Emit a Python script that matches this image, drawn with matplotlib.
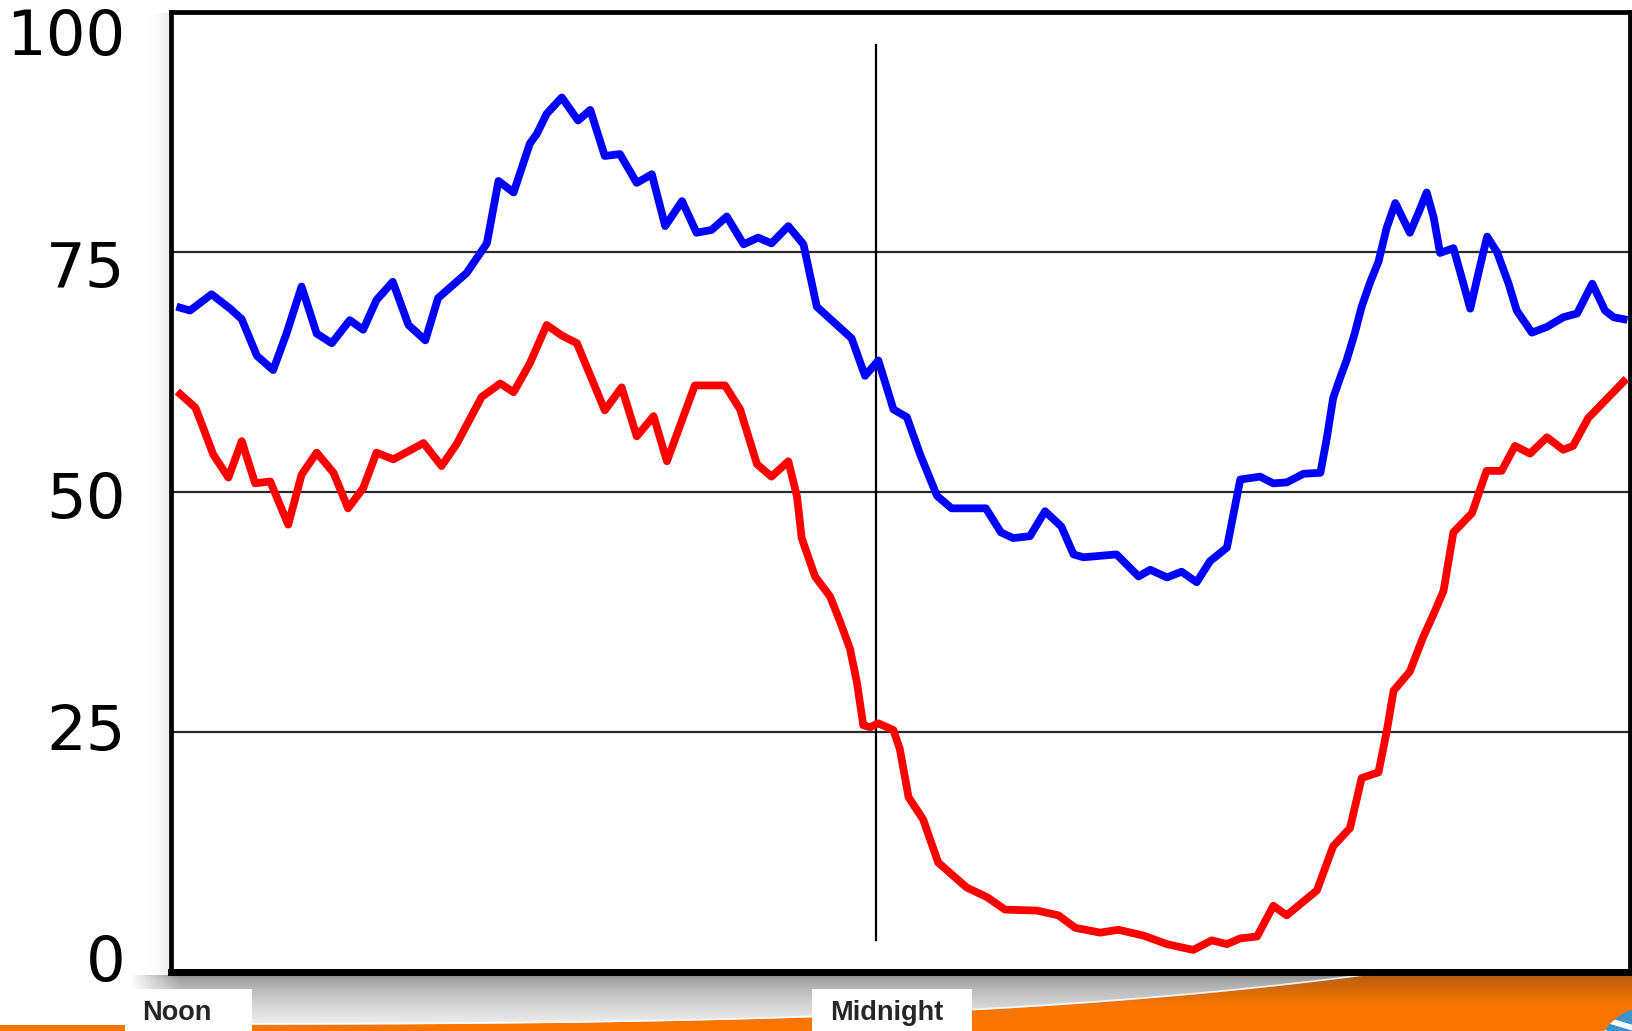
import numpy as np
import matplotlib
matplotlib.use("Agg")
import matplotlib.pyplot as plt
from matplotlib.patches import Rectangle, Polygon, Circle

# hours after noon
blue_hours = [0.02, 0.19, 0.56, 0.88, 1.08, 1.34, 1.62, 1.85, 2.11, 2.37, 2.63, 2.94,
              3.17, 3.40, 3.68, 3.95, 4.24, 4.46, 4.61, 4.95, 5.21, 5.30, 5.50, 5.76,
              6.04, 6.16, 6.33, 6.59, 6.87, 7.08, 7.33, 7.59, 7.88, 8.14, 8.37, 8.66,
              8.91, 9.17, 9.43, 9.72, 9.97, 10.20, 10.49, 10.75, 10.98, 11.58, 11.81,
              12.04, 12.30, 12.53, 12.76, 13.05, 13.30, 13.89, 14.15, 14.36, 14.65,
              14.91, 15.19, 15.40, 15.57, 16.14, 16.52, 16.72, 17.01, 17.26, 17.52,
              17.75, 18.04, 18.15, 18.27, 18.61, 18.84, 19.07, 19.36, 19.65, 19.76,
              19.87, 19.99, 20.10, 20.24, 20.36, 20.51, 20.65, 20.79, 20.94, 21.19,
              21.34, 21.48, 21.60, 21.71, 21.94, 22.08, 22.23, 22.37, 22.52, 22.69,
              22.89, 23.03, 23.29, 23.55, 23.83, 24.07, 24.33, 24.55, 24.70, 24.87]
blue_vals = [69.2, 68.9, 70.6, 69.1, 68.0, 64.2, 62.7, 66.5, 71.4, 66.5, 65.5, 67.9,
             66.9, 70.0, 71.9, 67.4, 65.8, 70.2, 71.0, 72.8, 75.1, 75.9, 82.4, 81.2,
             86.3, 87.3, 89.4, 91.1, 88.7, 89.8, 85.0, 85.2, 82.2, 83.1, 77.7, 80.3,
             77.0, 77.3, 78.7, 75.8, 76.5, 75.9, 77.7, 75.8, 69.3, 66.0, 62.1,
             63.7, 58.6, 57.8, 53.9, 49.6, 48.3, 48.3, 45.8, 45.2, 45.4,
             48.0, 46.4, 43.5, 43.2, 43.5, 41.2, 41.9, 41.1, 41.7, 40.6,
             42.8, 44.2, 47.6, 51.3, 51.6, 50.9, 51.0, 51.9, 52.0, 55.6,
             59.8, 61.9, 63.7, 66.5, 69.3, 71.9, 74.0, 77.5, 80.1, 77.0,
             79.1, 81.2, 78.6, 74.9, 75.4, 72.4, 69.1, 72.8, 76.6, 75.0,
             71.7, 68.9, 66.6, 67.2, 68.2, 68.6, 71.7, 68.9, 68.2, 68.0]

red_hours = [0.02, 0.28, 0.39, 0.59, 0.85, 1.08, 1.31, 1.57, 1.88, 2.11, 2.37, 2.66,
             2.91, 3.17, 3.40, 3.69, 4.21, 4.52, 4.78, 5.21, 5.53, 5.76, 6.04, 6.33,
             6.59, 6.85, 7.33, 7.62, 7.88, 8.17, 8.40, 8.88, 9.40, 9.66, 9.95, 10.20,
             10.49, 10.64, 10.72, 10.95, 11.21, 11.38, 11.55, 11.67, 11.78, 11.90,
             12.04, 12.30, 12.41, 12.56, 12.81, 13.07, 13.56, 13.91, 14.22, 14.77,
             15.14, 15.43, 15.86, 16.17, 16.60, 17.01, 17.46, 17.78, 18.04, 18.27,
             18.56, 18.84, 19.07, 19.59, 19.87, 20.16, 20.36, 20.65, 20.79, 20.91,
             21.19, 21.42, 21.60, 21.77, 21.94, 22.26, 22.51, 22.77, 23.00, 23.26,
             23.55, 23.83, 24.00, 24.26, 24.87]
red_vals = [60.2, 58.8, 57.1, 53.9, 51.5, 55.3, 50.9, 51.1, 46.6, 51.8, 54.1, 52.0,
            48.3, 50.4, 54.1, 53.4, 55.1, 52.7, 55.0, 59.9, 61.3, 60.4, 63.4, 67.4,
            66.3, 65.5, 58.5, 60.9, 55.8, 57.9, 53.2, 61.1, 61.1, 58.6, 52.9, 51.6,
            53.2, 49.5, 45.2, 41.2, 39.1, 36.5, 33.7, 30.2, 25.7, 25.5,
            25.9, 25.2, 23.2, 18.2, 15.9, 11.4, 8.8, 7.8, 6.5, 6.4,
            5.9, 4.6, 4.1, 4.4, 3.8, 2.9, 2.3, 3.3, 2.9, 3.5,
            3.7, 6.9, 5.9, 8.5, 13.1, 15.0, 20.2, 20.8, 25.0, 29.3,
            31.3, 34.9, 37.3, 39.7, 45.8, 47.8, 52.2, 52.2, 54.8, 54.0,
            55.7, 54.4, 54.8, 57.7, 61.5]

y_ticks = [0, 25, 50, 75, 100]
grid_vals = [25, 50, 75]
midnight = 12.0

W, H = 1632, 1031
fig = plt.figure(figsize=(W / 100, H / 100), dpi=100)
fig.patch.set_facecolor("white")

# --- background layer in pixel coords (shadow, orange swoosh, labels) ---
bg = fig.add_axes([0, 0, 1, 1], zorder=-5)
bg.set_xlim(0, W)
bg.set_ylim(H, 0)
bg.axis("off")

# grey drop shadow under the plot box
yy, xx = np.mgrid[975:H, 120:W]
shade = 0.54 + 0.43 * ((yy - 975) / (H - 975)) ** 0.6
fade = np.clip((xx - 130) / 50.0, 0, 1)
img = np.ones(yy.shape + (4,))
img[..., 0] = img[..., 1] = img[..., 2] = shade
img[..., 3] = fade
bg.imshow(img, extent=(120, W, H, 975), aspect="auto", zorder=1)

# soft shadow left of the box
yy2, xx2 = np.mgrid[13:975, 145:171]
side = np.ones(yy2.shape + (4,))
side[..., :3] = 0.85
side[..., 3] = ((xx2 - 145) / 26.0) ** 2 * 0.6
bg.imshow(side, extent=(145, 171, 975, 13), aspect="auto", zorder=1)

# orange swoosh
cx = np.linspace(0, W, 200)
cy = 1025 - 49 * np.clip(cx / 1363.0, 0, None) ** 3.6
cy = np.maximum(cy, 960)
poly = Polygon(np.column_stack([np.r_[cx, W, 0], np.r_[cy, H, H]]),
               closed=True, fc="none", ec="none")
bg.add_patch(poly)
grad = np.linspace(0, 1, 100)[:, None]
c_top = np.array([0.60, 0.32, 0.10])
c_bot = np.array([0.97, 0.46, 0.0])
orange = c_top + (c_bot - c_top) * np.clip(grad * 1.6, 0, 1)[..., None]
orange = np.repeat(orange, 2, axis=1)
im = bg.imshow(orange, extent=(0, W, H, 960), aspect="auto", zorder=2)
im.set_clip_path(poly)
bg.plot(cx, cy - 1, color="white", lw=1.2, alpha=0.8, zorder=3)

# bits of the logo in the corner
globe = Circle((1652, 1064), 58, fc="#3a95cf", ec="none", zorder=4)
bg.add_patch(globe)
for k in range(4):
    ln, = bg.plot([1580, 1640], [1012 + k * 13, 1030 + k * 13], color="white",
                  lw=4, zorder=5)
    ln.set_clip_path(globe)

# Noon / Midnight tabs
for label, x0, x1, tx in [("Noon", 125, 252, 177), ("Midnight", 812, 972, 887)]:
    bg.add_patch(Rectangle((x0, 989), x1 - x0, H - 989, fc="white", ec="none",
                           zorder=6))
    bg.text(tx, 1013, label, ha="center", va="center",
            fontsize=19.5, fontweight="bold", family="Liberation Sans",
            color="#262626", zorder=7)

# --- main plot ---
ax = fig.add_axes([171 / W, (H - 972) / H, (1630 - 171) / W, (972 - 12) / H])
ax.set_facecolor("white")
ax.set_xlim(-0.138, 24.98)
ax.set_ylim(0, 100)
ax.set_xticks([])
ax.set_yticks([])
for side_name, sp in ax.spines.items():
    sp.set_color("black")
    sp.set_linewidth(3.4)
ax.spines["bottom"].set_linewidth(5)

for g in grid_vals:
    ax.axhline(g, color="#2a2a2a", lw=1.6, zorder=1)
ax.plot([midnight, midnight], [3.3, 96.6], color="black", lw=1.6, zorder=1)

ax.plot(red_hours, red_vals, color="#ff0000", lw=5.6, zorder=3)
ax.plot(blue_hours, blue_vals, color="#0000ff", lw=5.6, zorder=3)

# y labels sit slightly off their gridlines, as in the original
for t in y_ticks:
    ax.text(-0.031, t * 0.9644 - 0.94, str(t), transform=ax.get_yaxis_transform(),
            ha="right", va="baseline", fontsize=45, color="black",
            family="DejaVu Sans", clip_on=False)

fig.savefig("out.png", dpi=100)
